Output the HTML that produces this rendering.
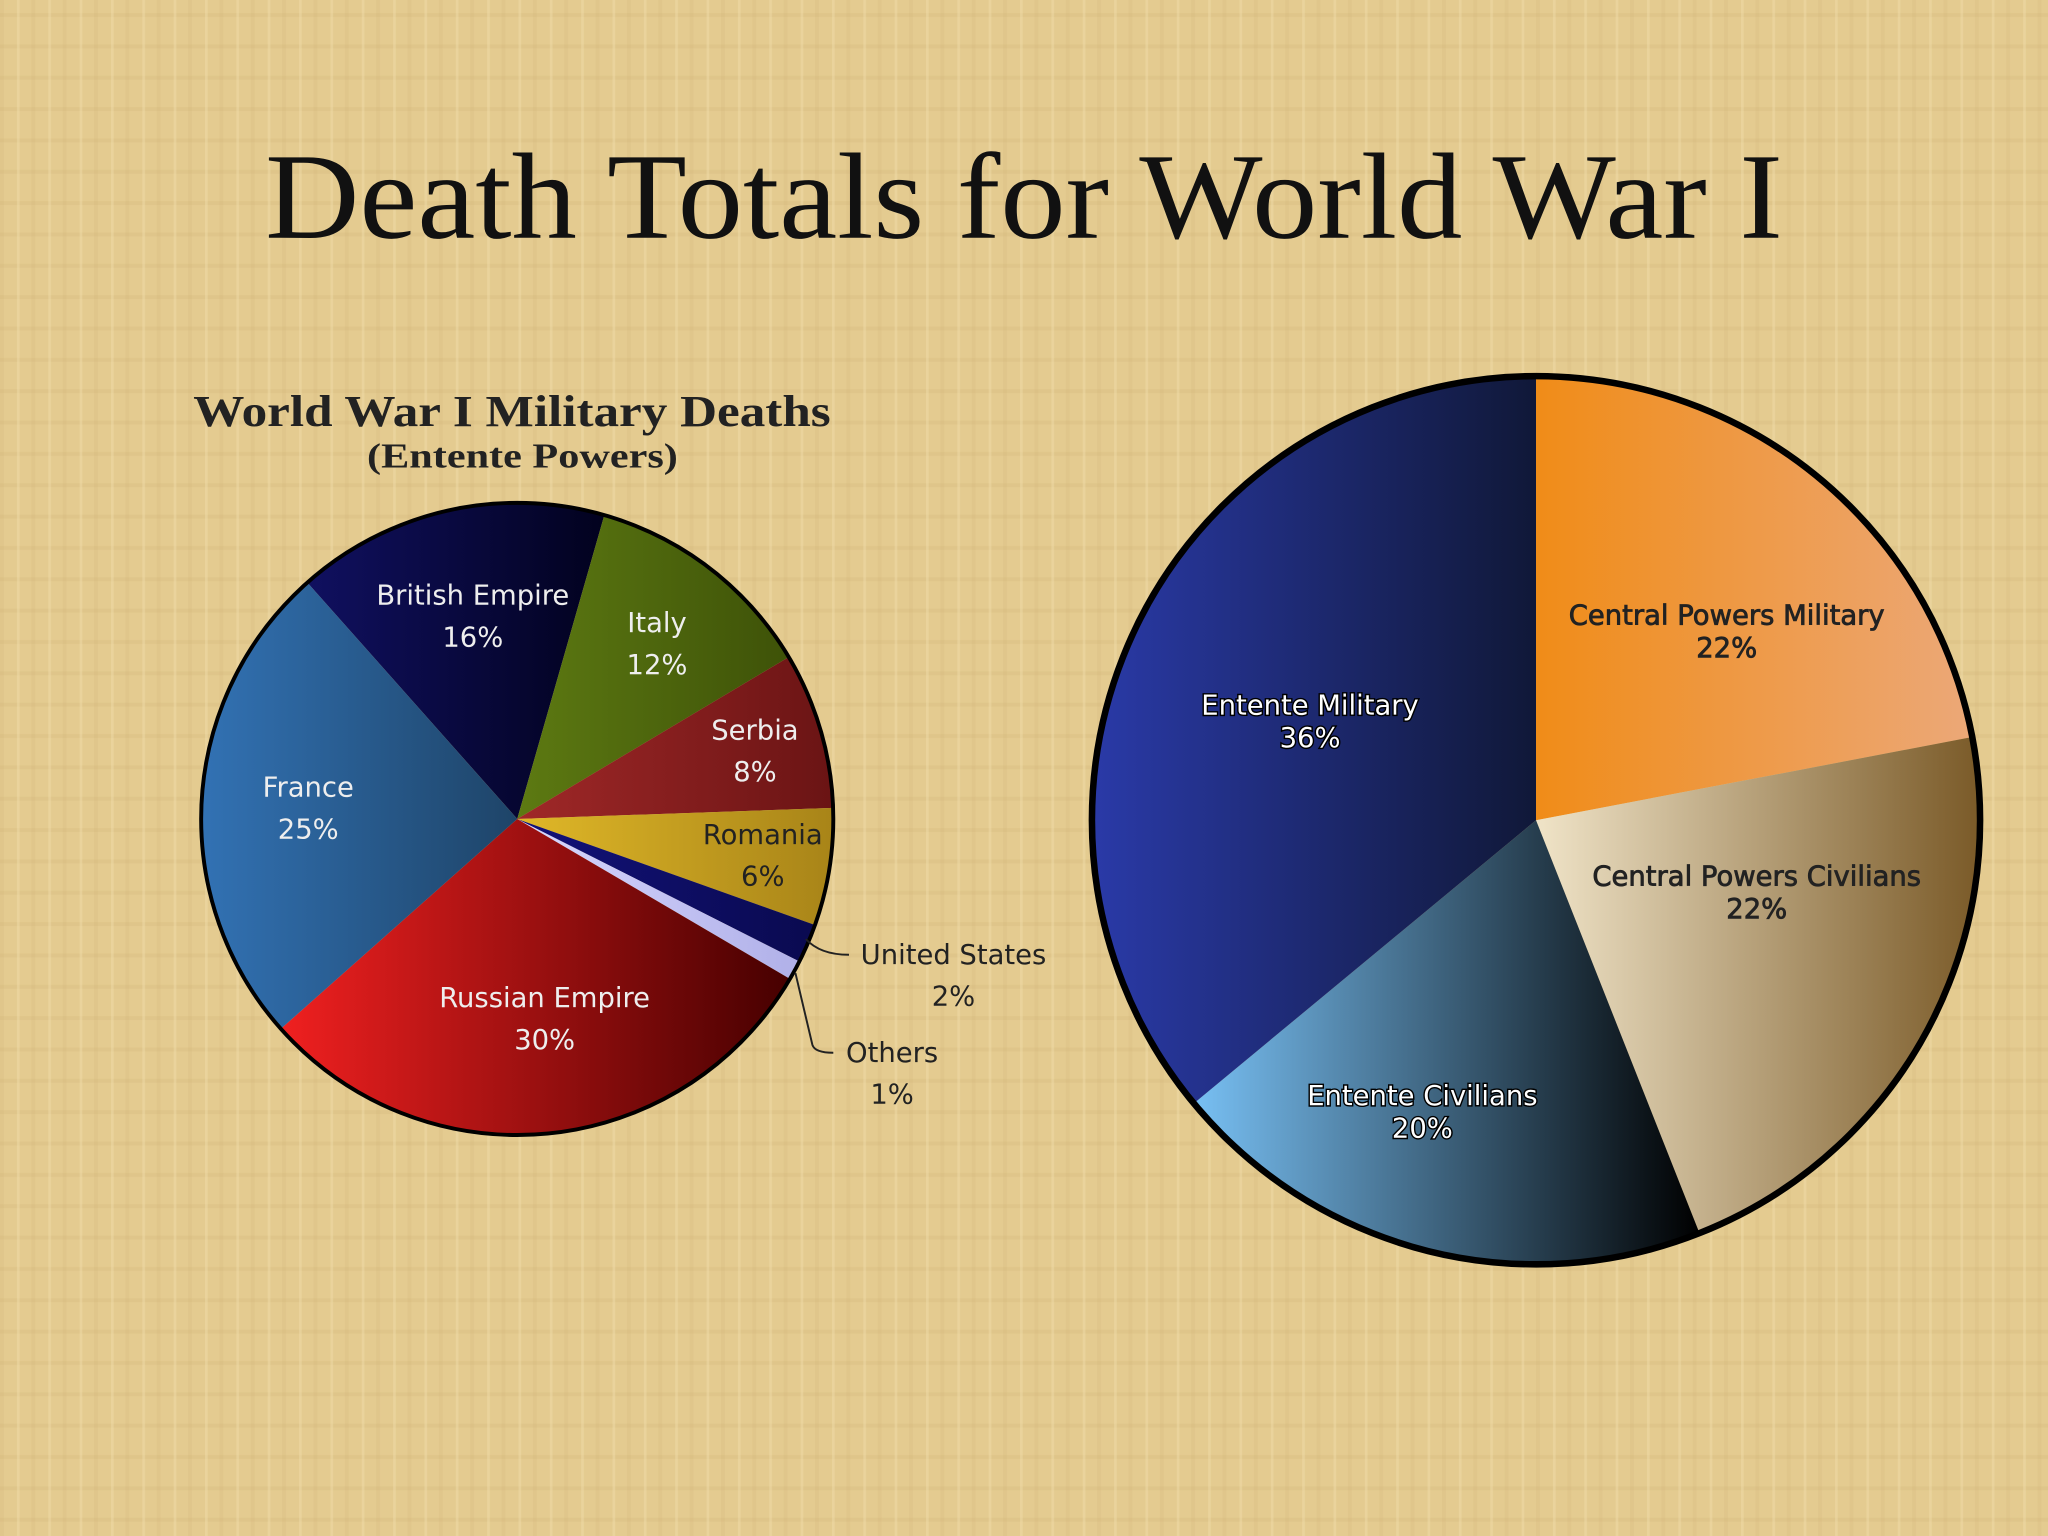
<!DOCTYPE html>
<html><head><meta charset="utf-8"><style>
html,body{margin:0;padding:0;background:#e6cd93;}
svg{display:block;}
</style></head><body>
<svg width="2048" height="1536" viewBox="0 0 1568 1176" xmlns="http://www.w3.org/2000/svg">
<defs>
<pattern id="tex" width="24" height="24" patternUnits="userSpaceOnUse">
<rect width="24" height="24" fill="#e4cb90"/>
<rect x="0" y="0" width="3" height="24" fill="#d8bd80" opacity="0.35"/>
<rect x="0" y="10" width="24" height="3" fill="#d4b87a" opacity="0.3"/>
<rect x="13" y="0" width="2" height="24" fill="#f0dca8" opacity="0.5"/>
</pattern>
<linearGradient id="g0" x1="0" x2="1"><stop offset="0" stop-color="#101060"/><stop offset="1" stop-color="#02021e"/></linearGradient>
<linearGradient id="g1" x1="0" x2="1"><stop offset="0" stop-color="#5d7a12"/><stop offset="1" stop-color="#3e5208"/></linearGradient>
<linearGradient id="g2" x1="0" x2="1"><stop offset="0" stop-color="#a02828"/><stop offset="1" stop-color="#6a1414"/></linearGradient>
<linearGradient id="g3" x1="0" x2="1"><stop offset="0" stop-color="#e0b828"/><stop offset="1" stop-color="#a88418"/></linearGradient>
<linearGradient id="g4" x1="0" x2="1"><stop offset="0" stop-color="#12127a"/><stop offset="1" stop-color="#0a0a50"/></linearGradient>
<linearGradient id="g5" x1="0" x2="1"><stop offset="0" stop-color="#d8d8ff"/><stop offset="1" stop-color="#b0b0e8"/></linearGradient>
<linearGradient id="g6" x1="0" x2="1"><stop offset="0" stop-color="#f02020"/><stop offset="1" stop-color="#460000"/></linearGradient>
<linearGradient id="g7" x1="0" x2="1"><stop offset="0" stop-color="#3272b4"/><stop offset="1" stop-color="#1e4468"/></linearGradient>
<linearGradient id="h0" x1="0" x2="1"><stop offset="0" stop-color="#f08c18"/><stop offset="1" stop-color="#eca878"/></linearGradient>
<linearGradient id="h1" x1="0" x2="1"><stop offset="0" stop-color="#f0e4c8"/><stop offset="1" stop-color="#7a5a28"/></linearGradient>
<linearGradient id="h2" x1="0" x2="1"><stop offset="0" stop-color="#78c0f4"/><stop offset="1" stop-color="#000000"/></linearGradient>
<linearGradient id="h3" x1="0" x2="1"><stop offset="0" stop-color="#2a3aa8"/><stop offset="1" stop-color="#101838"/></linearGradient>
</defs>
<rect width="1568" height="1176" fill="url(#tex)"/>
<text x="203" y="182" textLength="1162" lengthAdjust="spacingAndGlyphs" font-family="Liberation Serif, serif" font-size="94" fill="#111">Death Totals for World War I</text>
<text x="148" y="326" textLength="488" lengthAdjust="spacingAndGlyphs" font-family="Liberation Serif, serif" font-weight="bold" font-size="34" fill="#222">World War I Military Deaths</text>
<text x="281" y="358" textLength="238" lengthAdjust="spacingAndGlyphs" font-family="Liberation Serif, serif" font-weight="bold" font-size="27" fill="#222">(Entente Powers)</text>
<g id="left"></g>
<g id="right"></g>
<g>
<path d="M617 719 Q628 731 650 731" fill="none" stroke="#222" stroke-width="1.5"/>
<path d="M609 745 L622 800 Q624 806 638 806" fill="none" stroke="#222" stroke-width="1.5"/>
</g>
</svg>
<script>
const leftCats=["British Empire","Italy","Serbia","Romania","United States","Others","Russian Empire","France"];
const leftVals=[16,12,8,6,2,1,30,25];
const leftLabels=["16%","12%","8%","6%","2%","1%","30%","25%"];
const rightCats=["Central Powers Military","Central Powers Civilians","Entente Civilians","Entente Military"];
const rightVals=[22,22,20,36];
const rightLabels=["22%","22%","20%","36%"];
const NS="http://www.w3.org/2000/svg";
function pt(cx,cy,r,deg){const a=(deg-90)*Math.PI/180;return [cx+r*Math.cos(a),cy+r*Math.sin(a)];}
function drawPie(g,cx,cy,r,vals,start,fills,names,sw){
  const tot=vals.reduce((a,b)=>a+b,0);let a=start;
  vals.forEach((v,i)=>{const b=a+v/tot*360;const p1=pt(cx,cy,r,a),p2=pt(cx,cy,r,b);
    const p=document.createElementNS(NS,"path");
    p.setAttribute("d",`M${cx} ${cy} L${p1[0]} ${p1[1]} A${r} ${r} 0 ${b-a>180?1:0} 1 ${p2[0]} ${p2[1]} Z`);
    p.setAttribute("fill",fills[i]);
    
    
    g.appendChild(p);a=b;});
  const c=document.createElementNS(NS,"circle");
  c.setAttribute("cx",cx);c.setAttribute("cy",cy);c.setAttribute("r",r);
  c.setAttribute("fill","none");c.setAttribute("stroke","#000");c.setAttribute("stroke-width",sw);
  
  
  g.appendChild(c);
}
function label(g,x,y,txt,fill,stroke,sw,size,name){
  const t=document.createElementNS(NS,"text");
  t.setAttribute("x",x);t.setAttribute("y",y);t.setAttribute("text-anchor","middle");
  t.setAttribute("font-family","DejaVu Sans, sans-serif");t.setAttribute("font-size",size);
  t.setAttribute("fill",fill);
  if(stroke){t.setAttribute("stroke",stroke);t.setAttribute("stroke-width",sw);t.setAttribute("paint-order","stroke");}
  t.textContent=txt;
  
  
  g.appendChild(t);
}
const L=document.getElementById("left");
drawPie(L,396,627,242,leftVals,-41.6,["url(#g0)","url(#g1)","url(#g2)","url(#g3)","url(#g4)","url(#g5)","url(#g6)","url(#g7)"],leftCats.map(c=>"slice-"+c.toLowerCase().replace(/ /g,"-")),3);
const lpos=[[362,463,"#eee"],[503,484,"#eee"],[578,566,"#eee"],[584,646,"#222"],[730,738,"#222"],[683,813,"#222"],[417,771,"#eee"],[236,610,"#eee"]];
leftCats.forEach((c,i)=>{const p=lpos[i];label(L,p[0],p[1],c,p[2],null,0,21,"label-"+c.toLowerCase().replace(/ /g,"-"));label(L,p[0],p[1]+32,leftLabels[i],p[2],null,0,21,"value-"+c.toLowerCase().replace(/ /g,"-"));});
const R=document.getElementById("right");
drawPie(R,1176,628,340,rightVals,0,["url(#h0)","url(#h1)","url(#h2)","url(#h3)"],rightCats.map(c=>"slice-"+c.toLowerCase().replace(/ /g,"-")),5);
const rpos=[[1322,478,"#222"],[1345,678,"#222"],[1089,846,"#fff"],[1003,547,"#fff"]];
rightCats.forEach((c,i)=>{const p=rpos[i];const w=p[2]=="#fff";label(R,p[0],p[1],c,p[2],w?"#000":"#222",w?2.2:0.6,21,"label-"+c.toLowerCase().replace(/ /g,"-"));label(R,p[0],p[1]+25,rightLabels[i],p[2],w?"#000":"#222",w?2.2:0.6,21,"value-"+c.toLowerCase().replace(/ /g,"-"));});
</script>
</body></html>
